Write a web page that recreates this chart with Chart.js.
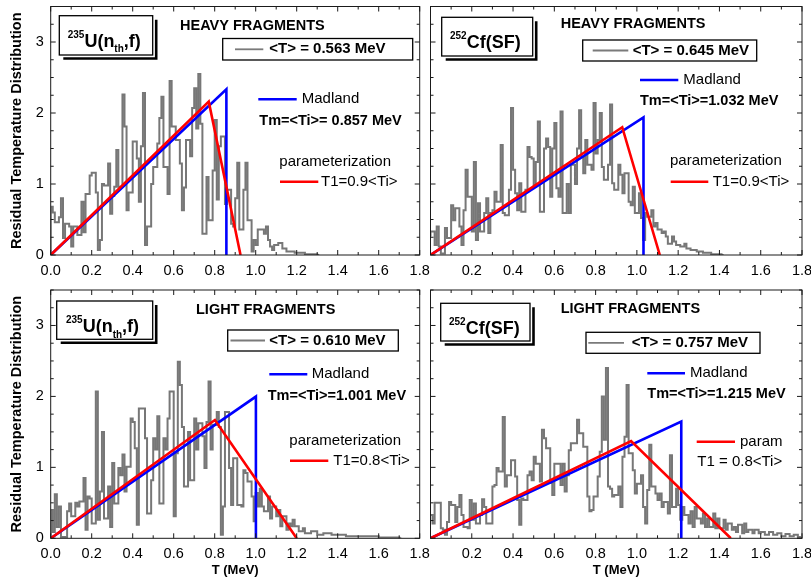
<!DOCTYPE html>
<html>
<head>
<meta charset="utf-8">
<title>Residual Temperature Distribution</title>
<script src="https://cdn.jsdelivr.net/npm/chart.js"></script>
<style>
  body { margin: 0; background: #fff; }
  #page { position: relative; width: 811px; height: 588px; overflow: hidden; background: #fff; }
  canvas { position: absolute; }
</style>
</head>
<body>
<div id="page">
  <canvas id="uHeavyChart"></canvas>
  <canvas id="cfHeavyChart"></canvas>
  <canvas id="uLightChart"></canvas>
  <canvas id="cfLightChart"></canvas>
</div>
<script>
// histogram bin width (MeV), bins start at T = 0
const binWidth = 0.01;

// 235U(nth,f) heavy fragments
const uHeavy = [
  0, 0.68, 0.60, 0.46, 0.46, 0.53, 0.80, 0.24, 0.44, 0.44,
  0.40, 0.12, 0.40, 0.40, 0.28, 0.28, 0.75, 0.32, 0.86, 0.86,
  1.12, 1.16, 1.16, 0.88, 0.07, 0.21, 1.00, 0.98, 0.98, 1.29,
  0.58, 0.83, 0.96, 1.48, 0.96, 0.96, 2.26, 1.81, 0.63, 0.88,
  0.88, 1.60, 1.60, 1.36, 0.75, 1.53, 2.28, 0.14, 0.40, 0.40,
  1.00, 1.24, 1.24, 1.57, 1.93, 2.23, 1.24, 1.24, 0.86, 2.45,
  1.81, 1.81, 1.62, 1.62, 1.29, 0.63, 0.95, 1.62, 1.62, 1.39,
  2.07, 2.35, 1.78, 2.55, 1.85, 0.30, 0.30, 1.10, 0.49, 0.49,
  1.19, 1.90, 0.78, 1.53, 1.67, 1.67, 0.72, 0.92, 0.92, 0.44,
  0.40, 0.80, 1.30, 0.36, 0.36, 0.92, 1.30, 0.49, 0.49, 0.05,
  0.21, 0.14, 0.36, 0.36, 0.36, 0.30, 0.40, 0.21, 0.12, 0.07,
  0.14, 0.14, 0.17, 0.17, 0.09, 0.09, 0.05, 0.05, 0.05, 0.05,
  0.03, 0.03, 0.03, 0.03, 0.03, 0.01, 0.01, 0.01, 0.01, 0.01, 0.01
];

// 252Cf(SF) heavy fragments
const cfHeavy = [
  0.26, 0.33, 0.33, 0.14, 0.40, 0.12, 0.02, 0.02, 0.38, 0.24,
  0.24, 0.70, 0.49, 0.66, 0.66, 0.40, 0.14, 0.63, 1.20, 0.82,
  0.82, 0.33, 1.31, 0.21, 0.73, 0.33, 0.33, 0.59, 0.80, 0.31,
  0.59, 0.63, 0.89, 0.75, 0.75, 1.55, 0.59, 0.56, 0.56, 0.92,
  2.07, 1.20, 0.87, 0.63, 1.01, 0.61, 0.61, 0.92, 1.52, 1.38,
  1.36, 0.96, 1.31, 1.88, 0.61, 0.61, 1.50, 1.64, 1.52, 0.82,
  1.50, 1.86, 0.94, 0.82, 2.02, 0.59, 0.59, 1.00, 0.59, 1.27,
  1.27, 1.00, 1.50, 2.04, 1.38, 1.15, 1.62, 1.27, 1.27, 1.20,
  2.14, 1.43, 1.62, 2.00, 1.24, 1.06, 1.06, 1.27, 2.12, 1.01,
  0.92, 0.92, 1.27, 1.13, 0.87, 1.15, 1.15, 0.75, 0.70, 0.96,
  0.59, 0.59, 0.87, 0.52, 0.21, 0.59, 0.54, 0.54, 0.63, 0.40,
  0.45, 0.36, 0.36, 0.31, 0.33, 0.26, 0.16, 0.16, 0.26, 0.19,
  0.14, 0.14, 0.12, 0.12, 0.16, 0.09, 0.09, 0.07, 0.07, 0.07,
  0.05, 0.05, 0.05, 0.03, 0.03, 0.03, 0.03, 0.01, 0.01, 0.01, 0.01, 0.01
];

// 235U(nth,f) light fragments
const uLight = [
  0, 0.40, 0.09, 0.62, 0.16, 0.45, 0.02, 0.02, 0.02, 0.38,
  0.49, 0.31, 0.31, 0.50, 0.45, 0.52, 0.52, 0.85, 0.12, 0.59,
  0.56, 0.21, 0.21, 2.07, 0.26, 0.66, 1.50, 0.28, 0.28, 0.73,
  0.16, 1.06, 0.49, 0.49, 0.99, 0.89, 1.18, 0.66, 1.01, 1.01,
  1.69, 1.64, 1.27, 0.19, 1.83, 1.83, 1.83, 1.41, 0.35, 0.35,
  0.82, 1.41, 1.25, 1.72, 0.49, 0.49, 1.41, 1.25, 1.69, 2.07,
  2.07, 0.31, 1.20, 2.49, 2.16, 1.57, 0.73, 0.73, 1.50, 0.82,
  0.82, 1.69, 1.25, 1.62, 1.62, 1.44, 0.99, 1.64, 2.21, 1.25,
  1.60, 1.60, 1.78, 1.57, 0.05, 0.45, 1.78, 1.78, 0.99, 0.47,
  1.13, 1.13, 0.47, 0.47, 0.45, 0.96, 0.92, 0.80, 0.80, 0.59,
  0.24, 0.64, 0.45, 0.70, 0.45, 0.38, 0.38, 0.59, 0.28, 0.45,
  0.45, 0.31, 0.40, 0.17, 0.31, 0.31, 0.12, 0.21, 0.17, 0.26,
  0.17, 0.17, 0.10, 0.10, 0.14, 0.07, 0.07, 0.07, 0.10, 0.10,
  0.10, 0.05, 0.05, 0.05, 0.07, 0.07, 0.07, 0.07, 0.05, 0.05,
  0.05, 0.05, 0.05, 0.05, 0.05, 0.03, 0.03, 0.03, 0.03, 0.03,
  0.03, 0.03, 0.03, 0.03, 0.03, 0.03, 0.03, 0.03, 0.03, 0.03,
  0.03, 0.01, 0.01, 0.01, 0.01, 0.01, 0.01, 0.01, 0.01, 0.01, 0.01
];

// 252Cf(SF) light fragments
const cfLight = [
  0.33, 0.33, 0.21, 0.50, 0.50, 0.50, 0.14, 0.12, 0.05, 0.23,
  0.51, 0.47, 0.47, 0.23, 0.44, 0.61, 0.33, 0.16, 0.16, 0.14,
  0.54, 0.26, 0.49, 0.21, 0.21, 0.33, 0.55, 0.44, 0.21, 0.21,
  0.21, 0.73, 0.75, 0.99, 0.94, 0.94, 1.71, 0.73, 0.89, 0.89,
  1.10, 1.10, 0.87, 0.54, 0.19, 0.56, 0.54, 0.54, 0.89, 0.94,
  0.82, 1.15, 1.05, 1.05, 0.80, 1.53, 1.41, 1.27, 1.27, 0.78,
  0.61, 1.05, 1.05, 1.05, 0.75, 1.05, 0.66, 0.89, 1.24, 1.34,
  1.34, 1.34, 1.67, 1.48, 1.48, 1.29, 1.29, 0.59, 0.38, 0.40,
  0.59, 0.59, 0.87, 1.22, 2.00, 1.39, 2.40, 0.73, 0.70, 0.59,
  0.61, 0.61, 0.73, 0.44, 1.15, 1.43, 2.16, 1.20, 1.20, 0.96,
  0.63, 0.77, 0.77, 0.89, 0.44, 0.21, 0.68, 1.32, 0.73, 0.73,
  0.63, 0.54, 0.63, 0.44, 0.51, 0.51, 0.35, 1.17, 0.44, 0.44,
  0.70, 0.47, 0.26, 0.44, 0.33, 0.33, 0.21, 0.38, 0.16, 0.44,
  0.28, 0.28, 0.21, 0.35, 0.16, 0.28, 0.16, 0.16, 0.35, 0.14,
  0.28, 0.14, 0.14, 0.26, 0.12, 0.21, 0.21, 0.12, 0.16, 0.09,
  0.19, 0.19, 0.07, 0.21, 0.09, 0.12, 0.12, 0.07, 0.12, 0.12,
  0.07, 0.09, 0.09, 0.05, 0.05, 0.09, 0.09, 0.05, 0.05, 0.07,
  0.07, 0.03, 0.03, 0.06, 0.06, 0.03, 0.03, 0.05, 0.05, 0.02
];

// Madland triangles (T, value)
const uHeavyMadlandT = [0, 0.857, 0.857];
const uHeavyMadlandY = [0, 2.334, 0];
const cfHeavyMadlandT = [0, 1.032, 1.032];
const cfHeavyMadlandY = [0, 1.938, 0];
const uLightMadlandT = [0, 1.001, 1.001];
const uLightMadlandY = [0, 1.998, 0];
const cfLightMadlandT = [0, 1.215, 1.215];
const cfLightMadlandY = [0, 1.646, 0];

// parameterization (T, value)
const uHeavyParamT = [0, 0.771, 0.926];
const uHeavyParamY = [0, 2.16, 0];
const cfHeavyParamT = [0, 0.929, 1.111];
const cfHeavyParamY = [0, 1.80, 0];
const uLightParamT = [0, 0.801, 1.20];
const uLightParamY = [0, 1.667, 0];
const cfLightParamT = [0, 0.972, 1.455];
const cfLightParamY = [0, 1.37, 0];

const FONT = '"Liberation Sans", Arial, sans-serif';

// page layout of each panel: canvas box and plot area (page px)
const panels = [
  { id: 'uHeavyChart', box: { left: 0, top: 0, w: 440, h: 285 }, area: { l: 50.7, t: 6.5, r: 419.7, b: 255 },
    hist: uHeavy, madT: uHeavyMadlandT, madY: uHeavyMadlandY, parT: uHeavyParamT, parY: uHeavyParamY,
    showY: true, xTitle: false, hideZero: false },
  { id: 'cfHeavyChart', box: { left: 425, top: 0, w: 386, h: 285 }, area: { l: 430.5, t: 6.5, r: 802, b: 255 },
    hist: cfHeavy, madT: cfHeavyMadlandT, madY: cfHeavyMadlandY, parT: cfHeavyParamT, parY: cfHeavyParamY,
    showY: false, xTitle: false, hideZero: true },
  { id: 'uLightChart', box: { left: 0, top: 285, w: 440, h: 303 }, area: { l: 50.7, t: 290, r: 419.7, b: 538.3 },
    hist: uLight, madT: uLightMadlandT, madY: uLightMadlandY, parT: uLightParamT, parY: uLightParamY,
    showY: true, xTitle: true, hideZero: false },
  { id: 'cfLightChart', box: { left: 425, top: 285, w: 386, h: 303 }, area: { l: 430.5, t: 290, r: 802, b: 538.3 },
    hist: cfLight, madT: cfLightMadlandT, madY: cfLightMadlandY, parT: cfLightParamT, parY: cfLightParamY,
    showY: false, xTitle: true, hideZero: true }
];

// annotations, in page px
const notes = {
  uHeavyChart: [
    { kind: 'tag', x: 59.3, y: 15.7, w: 93.4, h: 39.3, tx: 67.7, parts: [['235', 10, 22], ['U(n', 18, 31], ['th', 10, 36.5], [',f)', 18, 31]] },
    { kind: 'text', s: 'HEAVY FRAGMENTS', x: 180, y: 25.7, font: 'bold 14.5px' },
    { kind: 'rect', x: 222.7, y: 38.5, w: 190, h: 21.5 },
    { kind: 'line', x1: 235, x2: 263.3, y: 49.3, color: '#7a7a7a', width: 1.8 },
    { kind: 'text', s: '<T> = 0.563 MeV', x: 269.3, y: 49.3, font: 'bold 15px' },
    { kind: 'line', x1: 258.3, x2: 296.7, y: 99.3, color: '#0000ff', width: 2.6 },
    { kind: 'text', s: 'Madland', x: 301.7, y: 99.3, font: '15px' },
    { kind: 'text', s: 'Tm=<Ti>= 0.857 MeV', x: 259.3, y: 120.7, font: 'bold 14.5px' },
    { kind: 'text', s: 'parameterization', x: 279.3, y: 161.7, font: '15px' },
    { kind: 'line', x1: 280, x2: 318.3, y: 181.7, color: '#ff0000', width: 2.6 },
    { kind: 'text', s: 'T1=0.9<Ti>', x: 321, y: 181.7, font: '15px' }
  ],
  cfHeavyChart: [
    { kind: 'tag', x: 441.7, y: 17.3, w: 91, h: 38.7, tx: 450, parts: [['252', 10, 22], ['Cf(SF)', 18, 31]] },
    { kind: 'text', s: 'HEAVY FRAGMENTS', x: 560.7, y: 24, font: 'bold 14.5px' },
    { kind: 'rect', x: 582.7, y: 40, w: 174, h: 21 },
    { kind: 'line', x1: 592.7, x2: 628.3, y: 50.5, color: '#7a7a7a', width: 1.8 },
    { kind: 'text', s: '<T> = 0.645 MeV', x: 632.7, y: 50.5, font: 'bold 15px' },
    { kind: 'line', x1: 640, x2: 678.3, y: 80, color: '#0000ff', width: 2.6 },
    { kind: 'text', s: 'Madland', x: 683.3, y: 80, font: '15px' },
    { kind: 'text', s: 'Tm=<Ti>=1.032 MeV', x: 640, y: 100.7, font: 'bold 14.5px' },
    { kind: 'text', s: 'parameterization', x: 670, y: 160.7, font: '15px' },
    { kind: 'line', x1: 670.7, x2: 708.3, y: 181.7, color: '#ff0000', width: 2.6 },
    { kind: 'text', s: 'T1=0.9<Ti>', x: 712.7, y: 181.7, font: '15px' }
  ],
  uLightChart: [
    { kind: 'tag', x: 56.7, y: 301, w: 96, h: 38.3, tx: 66, parts: [['235', 10, 22], ['U(n', 18, 31], ['th', 10, 36.5], [',f)', 18, 31]] },
    { kind: 'text', s: 'LIGHT FRAGMENTS', x: 196, y: 310, font: 'bold 14.5px' },
    { kind: 'rect', x: 227.7, y: 330, w: 170.6, h: 21 },
    { kind: 'line', x1: 230.5, x2: 265, y: 340.5, color: '#7a7a7a', width: 1.8 },
    { kind: 'text', s: '<T> = 0.610 MeV', x: 269.3, y: 340.5, font: 'bold 15px' },
    { kind: 'line', x1: 269.3, x2: 307.3, y: 374.3, color: '#0000ff', width: 2.6 },
    { kind: 'text', s: 'Madland', x: 311.7, y: 374.3, font: '15px' },
    { kind: 'text', s: 'Tm=<Ti>=1.001 MeV', x: 267.7, y: 396, font: 'bold 14.5px' },
    { kind: 'text', s: 'parameterization', x: 289.3, y: 440.7, font: '15px' },
    { kind: 'line', x1: 290, x2: 328.3, y: 460.7, color: '#ff0000', width: 2.6 },
    { kind: 'text', s: 'T1=0.8<Ti>', x: 333.3, y: 460.7, font: '15px' }
  ],
  cfLightChart: [
    { kind: 'tag', x: 440.7, y: 303.3, w: 89.3, h: 37.7, tx: 449, parts: [['252', 10, 22], ['Cf(SF)', 18, 31]] },
    { kind: 'text', s: 'LIGHT FRAGMENTS', x: 560.7, y: 309, font: 'bold 14.5px' },
    { kind: 'rect', x: 586, y: 332.3, w: 174, h: 21 },
    { kind: 'line', x1: 588.3, x2: 624, y: 342.8, color: '#7a7a7a', width: 1.8 },
    { kind: 'text', s: '<T> = 0.757 MeV', x: 631.7, y: 342.8, font: 'bold 15px' },
    { kind: 'line', x1: 647.3, x2: 685, y: 373.3, color: '#0000ff', width: 2.6 },
    { kind: 'text', s: 'Madland', x: 690, y: 373.3, font: '15px' },
    { kind: 'text', s: 'Tm=<Ti>=1.215 MeV', x: 647.3, y: 394, font: 'bold 14.5px' },
    { kind: 'line', x1: 696.7, x2: 735, y: 441.7, color: '#ff0000', width: 2.6 },
    { kind: 'text', s: 'param', x: 740, y: 441.7, font: '15px' },
    { kind: 'text', s: 'T1 = 0.8<Ti>', x: 697.3, y: 461.7, font: '15px' }
  ]
};

function drawNote(ctx, n) {
  ctx.fillStyle = '#000';
  ctx.strokeStyle = '#000';
  if (n.kind === 'text') {
    ctx.font = n.font + ' ' + FONT;
    ctx.textAlign = 'left';
    ctx.textBaseline = 'middle';
    ctx.fillText(n.s, n.x, n.y);
  } else if (n.kind === 'line') {
    ctx.strokeStyle = n.color;
    ctx.lineWidth = n.width;
    ctx.beginPath();
    ctx.moveTo(n.x1, n.y);
    ctx.lineTo(n.x2, n.y);
    ctx.stroke();
  } else if (n.kind === 'rect') {
    ctx.lineWidth = 1.3;
    ctx.strokeRect(n.x, n.y, n.w, n.h);
  } else if (n.kind === 'tag') {
    ctx.lineWidth = 1.3;
    ctx.strokeRect(n.x, n.y, n.w, n.h);
    // drop shadow
    ctx.lineWidth = 2.6;
    ctx.beginPath();
    ctx.moveTo(n.x + 4, n.y + n.h + 3.5);
    ctx.lineTo(n.x + n.w + 3.5, n.y + n.h + 3.5);
    ctx.lineTo(n.x + n.w + 3.5, n.y + 4);
    ctx.stroke();
    ctx.textAlign = 'left';
    ctx.textBaseline = 'alphabetic';
    let x = n.tx;
    for (const [s, size, dy] of n.parts) {
      ctx.font = 'bold ' + size + 'px ' + FONT;
      ctx.fillText(s, x, n.y + dy);
      x += ctx.measureText(s).width;
    }
  }
}

// frame, inward ticks on all four sides, and the annotations
const decorPlugin = {
  id: 'decor',
  afterDatasetsDraw(chart) {
    const ctx = chart.ctx;
    const a = chart.chartArea;
    const xs = chart.scales.x, ys = chart.scales.y;
    ctx.save();
    ctx.strokeStyle = '#1a1a1a';
    ctx.lineWidth = 1;
    ctx.strokeRect(a.left, a.top, a.right - a.left, a.bottom - a.top);
    ctx.beginPath();
    for (let k = 0; k <= 18; k++) {
      const px = xs.getPixelForValue(k / 10);
      const len = k % 2 === 0 ? 5 : 3;
      ctx.moveTo(px, a.bottom); ctx.lineTo(px, a.bottom - len);
      ctx.moveTo(px, a.top); ctx.lineTo(px, a.top + len);
    }
    for (let k = 0; k <= 14; k++) {
      const py = ys.getPixelForValue(k * 0.25);
      const len = k % 4 === 0 ? 5 : 3;
      ctx.moveTo(a.left, py); ctx.lineTo(a.left + len, py);
      ctx.moveTo(a.right, py); ctx.lineTo(a.right - len, py);
    }
    ctx.stroke();
    const p = panels.find(q => q.id === chart.canvas.id);
    ctx.translate(-p.box.left, -p.box.top);
    for (const n of notes[p.id]) drawNote(ctx, n);
    ctx.restore();
  }
};

function histPoints(values) {
  const pts = values.map((v, i) => ({ x: i * binWidth, y: v }));
  pts.push({ x: values.length * binWidth, y: 0 });
  return pts;
}

function linePoints(ts, vs) {
  return ts.map((t, i) => ({ x: t, y: vs[i] }));
}

const tickFont = { family: FONT, size: 14.5 };

for (const p of panels) {
  const canvas = document.getElementById(p.id);
  canvas.width = p.box.w;
  canvas.height = p.box.h;
  canvas.style.left = p.box.left + 'px';
  canvas.style.top = p.box.top + 'px';

  const yWidth = p.showY ? p.area.l - p.box.left : 0;
  const xHeight = p.box.top + p.box.h - p.area.b;

  new Chart(canvas, {
    type: 'line',
    data: {
      datasets: [
        { data: linePoints(p.parT, p.parY), borderColor: '#ff0000', borderWidth: 2.6, pointRadius: 0, tension: 0 },
        { data: linePoints(p.madT, p.madY), borderColor: '#0000ff', borderWidth: 2.6, pointRadius: 0, tension: 0 },
        { data: histPoints(p.hist), borderColor: '#777777', borderWidth: 2, pointRadius: 0, stepped: 'after' }
      ]
    },
    options: {
      responsive: false,
      animation: false,
      events: [],
      layout: {
        padding: {
          left: p.area.l - p.box.left - yWidth,
          right: p.box.left + p.box.w - p.area.r,
          top: p.area.t - p.box.top,
          bottom: 0
        }
      },
      plugins: { legend: { display: false }, tooltip: { enabled: false } },
      scales: {
        x: {
          type: 'linear', min: 0, max: 1.8,
          grid: { display: false, drawTicks: false },
          border: { display: false },
          ticks: {
            stepSize: 0.2, autoSkip: false, maxRotation: 0, padding: 7,
            color: '#000', font: tickFont,
            callback: v => (p.hideZero && v === 0) ? null : v.toFixed(1)
          },
          title: {
            display: p.xTitle, text: 'T (MeV)', color: '#000',
            font: { family: FONT, size: 13, weight: 'bold' },
            padding: { top: 0, bottom: 10 }
          },
          afterFit: s => { s.height = xHeight; s.paddingLeft = 0; s.paddingRight = 0; }
        },
        y: {
          type: 'linear', min: 0, max: 3.5, display: p.showY,
          grid: { display: false, drawTicks: false },
          border: { display: false },
          ticks: {
            stepSize: 1, padding: 7, color: '#000', font: tickFont,
            callback: v => Number.isInteger(v) ? String(v) : null
          },
          title: {
            display: true, text: 'Residual Temperature Distribution', color: '#000',
            font: { family: FONT, size: 14.5, weight: 'bold' },
            padding: { top: 8, bottom: 0 }
          },
          afterFit: s => { s.width = yWidth; s.paddingTop = 0; s.paddingBottom = 0; }
        }
      }
    },
    plugins: [decorPlugin]
  });
}
</script>
</body>
</html>
